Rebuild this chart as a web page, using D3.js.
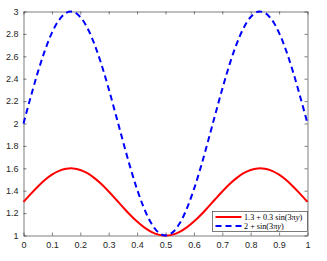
<!DOCTYPE html>
<html>
<head>
<meta charset="utf-8">
<script src="https://cdn.jsdelivr.net/npm/d3@7"></script>
<style>
  body { margin: 0; background: #fff; }
  svg { display: block; }
  .tick text { font-family: "Liberation Sans", Arial, sans-serif; font-size: 9px; fill: #262626; }
</style>
</head>
<body>
<svg id="chart"></svg>
<script>
// values, x step 0.025
const xVals = d3.range(41).map(i => i * 0.025);
const redVals = [1.300, 1.370, 1.436, 1.495, 1.543, 1.577, 1.596, 1.599, 1.585, 1.556, 1.512, 1.457, 1.393, 1.324, 1.253, 1.185, 1.124, 1.072, 1.033, 1.008, 1.000,
                 1.008, 1.033, 1.072, 1.124, 1.185, 1.253, 1.324, 1.393, 1.457, 1.512, 1.556, 1.585, 1.599, 1.596, 1.577, 1.543, 1.495, 1.436, 1.370, 1.300];
const blueVals = [2.000, 2.233, 2.454, 2.649, 2.809, 2.924, 2.988, 2.997, 2.951, 2.853, 2.707, 2.523, 2.309, 2.079, 1.844, 1.617, 1.412, 1.240, 1.109, 1.028, 1.000,
                  1.028, 1.109, 1.240, 1.412, 1.617, 1.844, 2.079, 2.309, 2.523, 2.707, 2.853, 2.951, 2.997, 2.988, 2.924, 2.809, 2.649, 2.454, 2.233, 2.000];
const xTicks = [0, 0.1, 0.2, 0.3, 0.4, 0.5, 0.6, 0.7, 0.8, 0.9, 1];
const yTicks = [1, 1.2, 1.4, 1.6, 1.8, 2, 2.2, 2.4, 2.6, 2.8, 3];
const legendLabels = [["1.3 + 0.3 sin(3\u03C0", "y", ")"], ["2 + sin(3\u03C0", "y", ")"]];

const W = 327, H = 261;
const L = 23.5, R = 307.5, T = 11.5, B = 235.5;

const svg = d3.select("#chart").attr("width", W).attr("height", H);

const x = d3.scaleLinear().domain([0, 1]).range([L, R]);
const y = d3.scaleLinear().domain([1, 3]).range([B, T]);

const fmt = d => String(d);
const axisCol = "#262626";

// axes, ticks pointing inward, box all round
const gx = svg.append("g").attr("transform", `translate(0,${B})`)
  .call(d3.axisBottom(x).tickValues(xTicks).tickFormat(fmt).tickSizeInner(-3).tickSizeOuter(0).tickPadding(6));
const gxTop = svg.append("g").attr("transform", `translate(0,${T})`)
  .call(d3.axisTop(x).tickValues(xTicks).tickFormat("").tickSizeInner(-3).tickSizeOuter(0));
const gy = svg.append("g").attr("transform", `translate(${L},0)`)
  .call(d3.axisLeft(y).tickValues(yTicks).tickFormat(fmt).tickSizeInner(-3).tickSizeOuter(0).tickPadding(5));
const gyR = svg.append("g").attr("transform", `translate(${R},0)`)
  .call(d3.axisRight(y).tickValues(yTicks).tickFormat("").tickSizeInner(-3).tickSizeOuter(0));
[gx, gxTop, gy, gyR].forEach(g => {
  g.selectAll("path, line").attr("stroke", axisCol).attr("stroke-width", 0.6);
});

const line = vals => d3.line()
  .x((d, i) => x(xVals[i]))
  .y(d => y(d))
  .curve(d3.curveCatmullRom)(vals);

svg.append("path").attr("d", line(redVals))
  .attr("fill", "none").attr("stroke", "#ff0000").attr("stroke-width", 2);
svg.append("path").attr("d", line(blueVals))
  .attr("fill", "none").attr("stroke", "#0000ff").attr("stroke-width", 2)
  .attr("stroke-dasharray", "6,4");

// legend
const lg = svg.append("g");
const lx0 = 212.5, ly0 = 211.5, lw = R - lx0, lh = 20;
lg.append("rect").attr("x", lx0).attr("y", ly0).attr("width", lw).attr("height", lh)
  .attr("fill", "#fff").attr("stroke", axisCol).attr("stroke-width", 0.6);
const styles = [
  { stroke: "#ff0000", dash: null },
  { stroke: "#0000ff", dash: "6,4" }
];
legendLabels.forEach((lab, i) => {
  const yy = ly0 + 5.5 + i * 9;
  lg.append("line").attr("x1", lx0 + 3).attr("x2", lx0 + 29).attr("y1", yy).attr("y2", yy)
    .attr("stroke", styles[i].stroke).attr("stroke-width", 2)
    .attr("stroke-dasharray", styles[i].dash);
  const t = lg.append("text").attr("x", lx0 + 31.5).attr("y", yy + 2.8)
    .attr("font-family", "'Liberation Serif', 'DejaVu Serif', serif")
    .attr("font-size", 8.2).attr("fill", "#000");
  t.append("tspan").text(lab[0]);
  t.append("tspan").attr("font-style", "italic").text(lab[1]);
  t.append("tspan").text(lab[2]);
});
</script>
</body>
</html>
